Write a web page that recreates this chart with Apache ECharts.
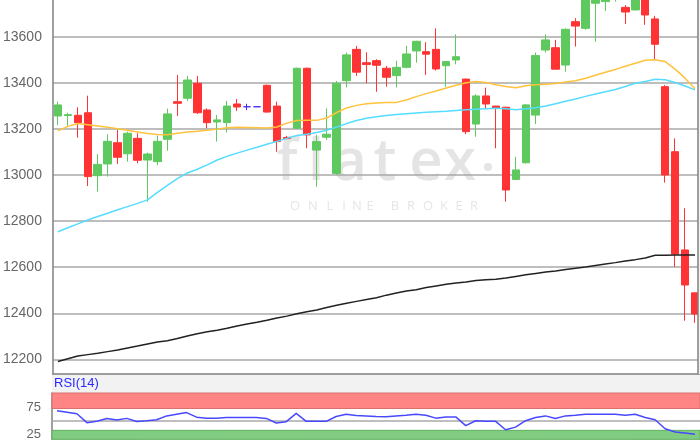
<!DOCTYPE html>
<html><head><meta charset="utf-8">
<script src="https://cdn.jsdelivr.net/npm/echarts@6/dist/echarts.min.js"></script>
<style>html,body{margin:0;padding:0;background:#fff}#c{width:700px;height:441px}</style>
</head><body><div id="c"></div><script>
const categories = Array.from({length: 65}, (_, i) => 'T' + (i + 1));
const opens  = [13256,13258,13259,13270,12997,13048,13140,13092,13159,13065,13058,13155,13318,13333,13398,13282,13230,13227,13308,13296,13296,13389,13299,13163,13203,13463,13108,13164,13007,13409,13545,13487,13496,13463,13431,13467,13538,13535,13545,13474,13499,13416,13221,13343,13299,13294,12981,13053,13260,13542,13552,13477,13665,13636,13745,13752,13780,13727,13716,13790,13677,13383,13101,12675,12489];
const closes = [13304,13262,13227,12993,13046,13146,13077,13181,13064,13091,13146,13265,13311,13412,13270,13227,13239,13299,13295,13296,13296,13273,13145,13158,13463,13174,13145,13177,13398,13521,13446,13479,13476,13424,13467,13525,13580,13524,13460,13492,13513,13188,13343,13308,13289,12935,13022,13304,13518,13586,13459,13632,13646,13790,13800,13790,13800,13707,13780,13694,13567,13000,12657,12523,12397];
const lows   = [13217,13213,13162,12952,12928,12993,13048,13058,13051,12884,13043,13105,13256,13322,13265,13203,13145,13184,13278,13281,13296,13271,13101,13155,13200,13116,12949,13152,13000,13380,13430,13398,13361,13383,13380,13463,13487,13434,13453,13383,13480,13177,13166,13289,13116,12884,12981,13050,13221,13531,13459,13448,13557,13630,13578,13711,13752,13655,13714,13651,13502,12967,12602,12368,12359];
const highs  = [13318,13270,13294,13344,13091,13177,13195,13188,13181,13097,13171,13288,13434,13430,13430,13289,13260,13322,13330,13309,13296,13392,13318,13170,13466,13466,13174,13289,13408,13531,13560,13532,13502,13473,13496,13560,13582,13576,13636,13494,13610,13418,13350,13379,13300,13296,13079,13308,13531,13610,13586,13636,13680,13810,13820,13800,13815,13737,13800,13800,13690,13390,13159,12856,12489];
const maFast = [13192,13211,13223,13218,13213,13207,13201,13194,13187,13180,13176,13175,13181,13187,13190,13194,13199,13205,13207,13206,13205,13204,13208,13225,13236,13237,13237,13247,13271,13291,13302,13309,13312,13314,13315,13325,13340,13353,13364,13377,13389,13400,13406,13401,13391,13384,13378,13387,13391,13394,13397,13403,13409,13420,13433,13446,13458,13472,13485,13498,13500,13492,13459,13420,13374];
const maMid  = [12754,12771,12788,12805,12820,12834,12849,12863,12877,12892,12925,12955,12984,13009,13025,13044,13065,13081,13095,13108,13120,13133,13146,13159,13171,13177,13184,13194,13208,13223,13236,13246,13253,13258,13262,13266,13269,13272,13274,13276,13280,13283,13285,13287,13289,13287,13283,13287,13292,13299,13309,13320,13330,13341,13351,13361,13371,13384,13398,13406,13415,13413,13401,13386,13369];
const maSlow = [12191,12203,12215,12221,12227,12234,12241,12250,12258,12267,12276,12281,12291,12302,12312,12320,12327,12335,12345,12354,12361,12370,12380,12388,12398,12407,12415,12425,12435,12444,12452,12460,12468,12479,12488,12497,12502,12512,12519,12526,12532,12536,12542,12546,12548,12553,12560,12567,12573,12579,12584,12590,12596,12601,12608,12614,12620,12627,12633,12640,12652,12652,12653,12653,12653];
const rsi    = [68.2,65.6,62.6,46.5,49.1,54.1,51.3,54.3,48.5,50,51.7,58.8,61.8,64.8,56.5,54.7,54.7,56,56,56,56,54.2,45.9,48.3,63.5,48.9,48.9,48.9,57.7,61.8,59.7,58.8,57.7,57.3,58.8,60,61.8,60,54.7,57,57,41.2,50,48.9,48.9,33.7,38.4,50,56,58.8,54.2,58.8,60,61.8,61.8,61.8,61.8,60,61.8,56,51.7,35.4,29.6,27.9,25.4];
const priceTicks = [12200,12400,12600,12800,13000,13200,13400,13600];
const rsiTicks = [25,75];
const rsiUpper = 72.2, rsiLower = 32.5, rsiMid = 50;

const candles = opens.map((o, i) => [o, closes[i], lows[i], highs[i]]);
const chart = echarts.init(document.getElementById('c'), null, {renderer: 'canvas'});
const FONT = '"Liberation Sans", Arial, sans-serif';
const wmLetters = [['f',287],['l',316],['a',350],['t',385],['e',426],['x',460]];
const wmSub = [['O',295],['N',313],['L',330],['I',344],['N',357],['E',370],['B',395],['R',411],['O',428],['K',444],['E',459],['R',474]];
const graphics = [
  {type:'rect', shape:{x:52,y:374,width:648,height:19}, style:{fill:'#f2f2f2'}, z:-10, silent:true},
  {type:'rect', shape:{x:698,y:0,width:2,height:374}, style:{fill:'#f2f2f2'}, z:50, silent:true},
  {type:'line', shape:{x1:698,y1:0,x2:698,y2:374}, style:{stroke:'#808080', lineWidth:1.5}, z:51, silent:true},
  {type:'text', left:54, top:377, style:{text:'RSI(14)', fill:'#2a2aff', font:'13px ' + FONT}, z:50},
];
wmLetters.forEach(([ch, x]) => graphics.push({type:'text', x:x, y:163, style:{text:ch, fill:'#e4e4e4', font:'600 58px "Open Sans", sans-serif', align:'center', verticalAlign:'middle'}, z:-5, silent:true}));
graphics.push({type:'circle', shape:{cx:488, cy:167, r:4}, style:{fill:'#e4e4e4'}, z:-5, silent:true});
wmSub.forEach(([ch, x]) => graphics.push({type:'text', x:x, y:206, style:{text:ch, fill:'#e6e6e6', font:'13px "Open Sans", sans-serif', align:'center', verticalAlign:'middle'}, z:-5, silent:true}));

chart.setOption({
  animation: false,
  backgroundColor: '#ffffff',
  graphic: graphics,
  grid: [
    {left: 52, right: 0, top: 0, height: 374, show: true, backgroundColor: 'rgba(255,255,255,0)', borderWidth: 0},
    {left: 52, right: 0, top: 393, bottom: 0, show: true, backgroundColor: '#fff', borderWidth: 0}
  ],
  xAxis: [
    {type:'category', data: categories, gridIndex:0, boundaryGap:true,
     axisLine:{show:true, lineStyle:{color:'#808080', width:1.5}}, axisTick:{show:false}, axisLabel:{show:false}, splitLine:{show:false}},
    {type:'category', data: categories, gridIndex:1, boundaryGap:true,
     axisLine:{show:false}, axisTick:{show:false}, axisLabel:{show:false}, splitLine:{show:false}}
  ],
  yAxis: [
    {type:'value', gridIndex:0, min:12137, max:13759, scale:true,
     axisLine:{show:true, lineStyle:{color:'#808080', width:1.5}},
     axisTick:{show:false, customValues: priceTicks},
     axisLabel:{customValues: priceTicks, color:'#666', fontSize:14, fontFamily: FONT, margin:11, formatter: v => String(v)},
     splitLine:{show:true, lineStyle:{color:'#a8a8a8', width:1.5}}},
    {type:'value', gridIndex:1, min:16.2, max:100.4,
     axisLine:{show:true, lineStyle:{color:'#808080', width:1.5}},
     axisTick:{show:false, customValues: rsiTicks},
     axisLabel:{customValues: rsiTicks, color:'#666', fontSize:13, fontFamily: FONT, margin:11, formatter: v => String(v)},
     splitLine:{show:false}}
  ],
  series: [
    {type:'candlestick', xAxisIndex:0, yAxisIndex:0, data: candles, barWidth: 8, z: 5, clip: true,
     itemStyle:{color:'#5ec95e', color0:'#ff3333', borderColor:'#5ec95e', borderColor0:'#ff3333', borderColorDoji:'#4b2cf0', borderWidth:1}},
    {type:'line', xAxisIndex:0, yAxisIndex:0, data: maSlow, symbol:'none', z: 6, lineStyle:{color:'#222', width:1.5}},
    {type:'line', xAxisIndex:0, yAxisIndex:0, data: maMid, symbol:'none', z: 6, lineStyle:{color:'#55dcff', width:1.5}},
    {type:'line', xAxisIndex:0, yAxisIndex:0, data: maFast, symbol:'none', z: 6, lineStyle:{color:'#ffc23d', width:1.5}},
    {type:'line', xAxisIndex:1, yAxisIndex:1, data: rsi, symbol:'none', z: 6, lineStyle:{color:'#4848ff', width:1.5},
     markArea:{silent:true, data:[
       [{yAxis:rsiUpper, itemStyle:{color:'#ff8585', borderColor:'#d97070', borderWidth:1}}, {yAxis:100.4}],
       [{yAxis:16.2, itemStyle:{color:'#80cc80', borderColor:'#5fb05f', borderWidth:1}}, {yAxis:rsiLower}]
     ]},
     markLine:{silent:true, symbol:'none', label:{show:false}, lineStyle:{color:'#aaa', width:1.5, type:'solid'}, data:[{yAxis:rsiMid}]}}
  ]
});
</script></body></html>
